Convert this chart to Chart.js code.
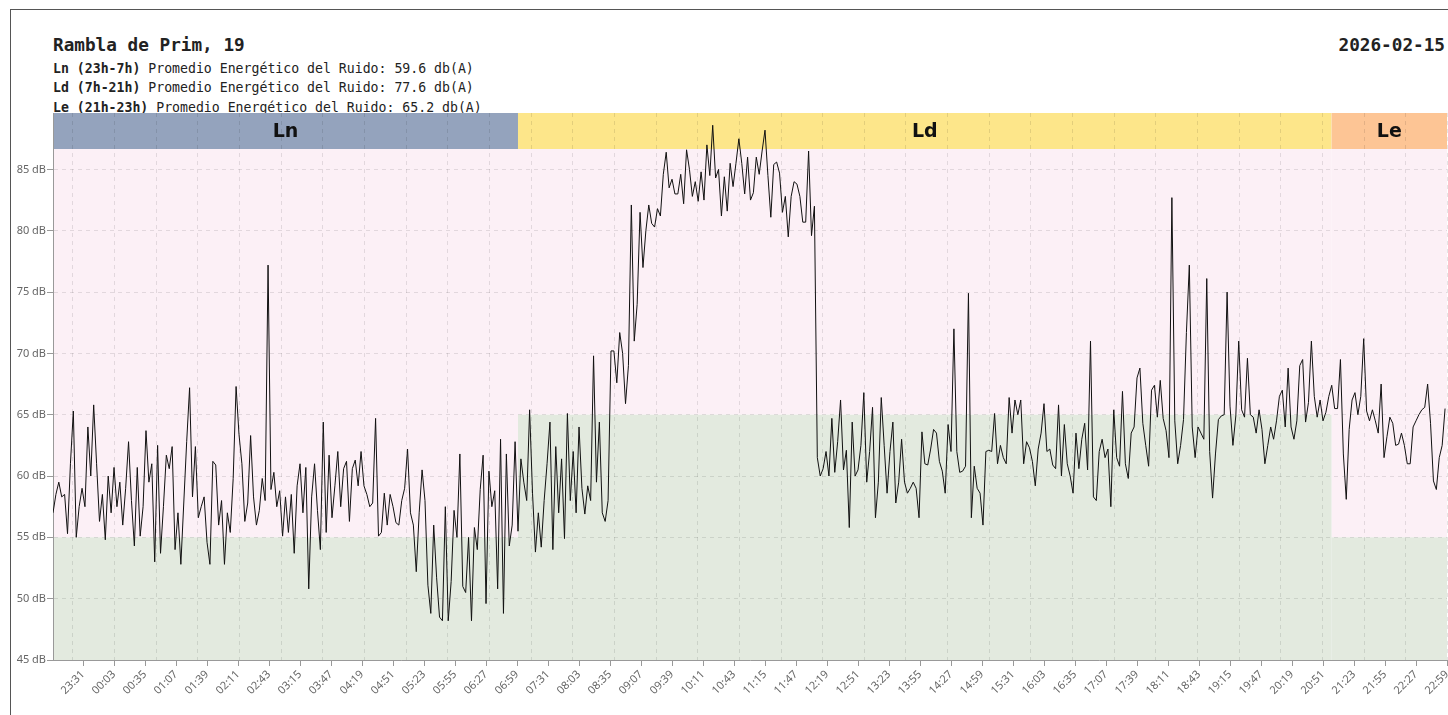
<!DOCTYPE html>
<html>
<head>
<meta charset="utf-8">
<script src="https://cdn.jsdelivr.net/npm/chart.js@4.4.1/dist/chart.umd.min.js"></script>
<style>
  html, body { margin: 0; padding: 0; background: #fff; overflow: hidden; }
  #frame { position: absolute; left: 10px; top: 9px; width: 1600px; height: 800px;
           border-left: 1px solid #555; border-top: 1px solid #555; }
  .mono { font-family: "DejaVu Sans Mono", monospace; color: #222; position: absolute; white-space: pre; }
  #title { left: 53px; top: 34px; font-size: 17.7px; font-weight: bold; line-height: 22px; }
  #date { right: 3px; top: 34px; font-size: 17.7px; font-weight: bold; line-height: 22px; }
  .info { left: 53px; font-size: 13.2px; line-height: 16px; }
  #chartBox { position: absolute; left: 0; top: 100px; }
</style>
</head>
<body>
<div id="frame"></div>
<div id="title" class="mono">Rambla de Prim, 19</div>
<div id="date" class="mono">2026-02-15</div>
<div class="mono info" style="top:61px"><b>Ln (23h-7h)</b> Promedio Energético del Ruido: 59.6 db(A)</div>
<div class="mono info" style="top:80px"><b>Ld (7h-21h)</b> Promedio Energético del Ruido: 77.6 db(A)</div>
<div class="mono info" style="top:100px"><b>Le (21h-23h)</b> Promedio Energético del Ruido: 65.2 db(A)</div>
<canvas id="chartBox" width="1460" height="615"></canvas>
<script>
// Nivel sonoro cada 3 minutos desde las 23:00 (dB)
const sampleStep = 3;
const levels = [
  // 23:00 - 02:00
  57, 58.5, 59.5, 58.3, 58.5, 55.3, 61, 65.3, 55, 57.5,
  59, 57.5, 64, 60, 65.8, 61, 56.3, 58.5, 54.8, 60,
  57, 60.7, 57.5, 59.5, 56, 59, 62.8, 58, 54.3, 60.7,
  55.1, 57.5, 63.7, 59.5, 61, 53, 62.5, 53.7, 57.5, 61.7,
  60.6, 62.4, 54, 57, 52.8, 57.8, 62.8, 67.2, 58.3, 62.4,
  56.6, 57.5, 58.3, 54.6, 52.8, 61.2, 60.9, 56, 58, 52.8,
  // 02:00 - 05:00
  57, 55.4, 59.8, 67.3, 63.4, 61, 56.3, 57.8, 63.3, 58.3,
  56, 57.2, 59.8, 58, 77.2, 58.9, 60.3, 57.5, 58.8, 55.1,
  58.3, 55.4, 58.5, 53.7, 59.2, 61, 57, 60.7, 50.8, 58.3,
  61, 57.2, 54, 64.4, 55.4, 61.7, 56.6, 59.2, 62, 57.5,
  60.6, 61.2, 56.3, 60.6, 61.3, 59.2, 62, 59.2, 58.5, 57.5,
  57.8, 64.7, 55.1, 55.4, 58.6, 56, 58.5, 57.5, 56.2, 56,
  // 05:00 - 08:00
  58, 59, 62.2, 57, 56, 52.2, 57, 60.5, 58, 51.1,
  48.8, 56, 51.7, 48.5, 48.2, 57.5, 48.2, 51.4, 57.2, 55,
  61.8, 51, 50.5, 55, 48.2, 55.8, 54, 58.9, 61.7, 49.6,
  60.4, 57.5, 58.8, 50.8, 63, 48.8, 61.8, 54.3, 56, 62.8,
  55.5, 61.4, 59.5, 58, 65.4, 58.6, 53.8, 57, 54.2, 58,
  61, 64.4, 54, 62.4, 57, 61.4, 54.9, 65.1, 58, 62,
  // 08:00 - 11:00
  57, 64, 59, 56.9, 59.2, 58, 69.8, 59.5, 64.4, 57,
  56.3, 58, 70.2, 70.2, 67.6, 71.7, 70, 65.9, 69, 82.1,
  71, 74, 81.5, 77, 80, 82.1, 80.6, 80.3, 81.8, 81.2,
  84.6, 86.4, 83.5, 84.2, 83, 83, 84.6, 82.2, 86.6, 85,
  82.8, 84, 82.4, 84.8, 82.5, 87, 84.5, 88.6, 84.3, 85,
  81.2, 84.4, 81.6, 85.5, 83.6, 85.5, 87.5, 85.5, 83, 86,
  // 11:00 - 14:00
  82.5, 83.1, 86, 84.6, 86.5, 88.2, 84.5, 81.1, 85.4, 85.6,
  84.7, 81.5, 82.8, 79.5, 82.8, 84, 83.8, 82.8, 80.7, 80.7,
  86.5, 79.6, 82, 61.5, 60, 60.6, 62, 60, 64.7, 60.3,
  62.8, 66.2, 60.5, 62.1, 55.8, 64.4, 60, 60.5, 62.5, 66.8,
  59.5, 62, 65.6, 56.6, 59.5, 66.4, 62.5, 58.6, 62, 64.4,
  57.8, 59.5, 63, 59.5, 58.6, 59, 59.5, 59, 56.6, 63.6,
  // 14:00 - 17:00
  61, 60.9, 62.2, 63.8, 63.5, 61.2, 60.4, 58.6, 64.2, 62,
  72, 62, 60.3, 60.4, 60.8, 74.9, 56.6, 60.8, 59, 58.6,
  56, 62, 62.1, 62, 65.1, 61, 62.5, 61.5, 61, 66.4,
  63.5, 66.2, 65, 66.2, 61, 62.8, 62.3, 61.2, 59.2, 62.2,
  63.5, 65.9, 62, 62.2, 60.9, 60.6, 65.8, 60, 64.2, 61,
  60, 58.6, 63.5, 60.6, 63, 64.3, 60.5, 71, 58.3, 58,
  // 17:00 - 20:00
  62, 63, 61.5, 62.2, 57.5, 65.4, 61.5, 60.8, 66.9, 61,
  59.8, 63.5, 64, 68, 68.8, 64.3, 62.5, 60.8, 67, 67.4,
  64.8, 67.8, 64.7, 63.7, 61.5, 82.7, 64.5, 61, 62.5, 64.6,
  71.7, 77.2, 64, 61.5, 64, 63.5, 63, 76.1, 62, 58.2,
  61.8, 64.6, 64.9, 65, 75, 65.7, 62.5, 64.9, 71, 65.4,
  64.8, 69.6, 65, 64.8, 63.5, 65.4, 63.8, 61, 62.5, 64,
  // 20:00 - 23:00
  63, 64.5, 66.5, 67, 64, 68.8, 64, 63, 64.5, 69,
  69.5, 64.4, 66, 71, 66.5, 64.8, 66.2, 64.5, 65.2, 66.5,
  67.4, 65.5, 65.5, 69.5, 61.8, 58.1, 63.8, 66.2, 66.8, 65,
  66.5, 71.2, 65.3, 64.5, 65.4, 64.5, 63.5, 67.5, 61.5, 63.2,
  64.8, 64.3, 62.5, 62.6, 63.5, 62.5, 61, 61, 64, 64.5,
  65, 65.4, 65.6, 67.5, 64.3, 59.6, 58.9, 61.5, 62.5, 65.5
];

// Etiquetas del eje X
const tickLabels = [
  '23:31', '00:03', '00:35', '01:07', '01:39', '02:11', '02:43', '03:15', '03:47',
  '04:19', '04:51', '05:23', '05:55', '06:27', '06:59', '07:31', '08:03', '08:35',
  '09:07', '09:39', '10:11', '10:43', '11:15', '11:47', '12:19', '12:51', '13:23',
  '13:55', '14:27', '14:59', '15:31', '16:03', '16:35', '17:07', '17:39', '18:11',
  '18:43', '19:15', '19:47', '20:19', '20:51', '21:23', '21:55', '22:27', '22:59'
];

// Periodos: nombre, inicio y fin (minutos desde las 23:00), límite en dB
const periodNames = ['Ln', 'Ld', 'Le'];
const periodStart = [0, 480, 1320];
const periodEnd = [480, 1320, 1440];
const periodLimit = [55, 65, 55];
const periodColors = ['#94a3bd', '#fde68a', '#fdc595'];

const startHour = 23;
const xMax = 1439;
const gridStep = 43;
const gridOffset = 20;
const bandHeight = 36;
const overColor = '#fcf0f6';
const underColor = '#e3eadf';

function toMinutes(label) {
  const [h, m] = label.split(':').map(Number);
  return ((h - startHour + 24) % 24) * 60 + m;
}
const tickMinutes = tickLabels.map(toMinutes);

const zonesPlugin = {
  id: 'zones',
  beforeDraw(chart) {
    const { ctx, chartArea: a, scales: { x, y } } = chart;
    ctx.save();
    periodNames.forEach((name, i) => {
      const x0 = Math.max(a.left, x.getPixelForValue(periodStart[i]));
      const x1 = Math.min(a.right, x.getPixelForValue(periodEnd[i]));
      const yl = y.getPixelForValue(periodLimit[i]);
      ctx.fillStyle = overColor;
      ctx.fillRect(x0, a.top, x1 - x0, yl - a.top);
      ctx.fillStyle = underColor;
      ctx.fillRect(x0, yl, x1 - x0, a.bottom - yl);
      ctx.fillStyle = periodColors[i];
      ctx.fillRect(x0, a.top, x1 - x0, bandHeight);
    });
    // lineas verticales discontinuas
    ctx.strokeStyle = 'rgba(0,0,0,0.1)';
    ctx.lineWidth = 1;
    ctx.setLineDash([4, 4]);
    for (let m = gridOffset; m <= xMax; m += gridStep) {
      const px = Math.round(x.getPixelForValue(m)) + 0.5;
      ctx.beginPath();
      ctx.moveTo(px, a.top);
      ctx.lineTo(px, a.bottom);
      ctx.stroke();
    }
    ctx.setLineDash([]);
    // nombres de periodos
    ctx.fillStyle = '#111';
    ctx.font = 'bold 19px "DejaVu Sans"';
    ctx.textAlign = 'center';
    ctx.textBaseline = 'middle';
    periodNames.forEach((name, i) => {
      const x0 = Math.max(a.left, x.getPixelForValue(periodStart[i]));
      const x1 = Math.min(a.right, x.getPixelForValue(periodEnd[i]));
      ctx.fillText(name, (x0 + x1) / 2, a.top + bandHeight / 2 + 1);
    });
    ctx.restore();
  }
};

new Chart(document.getElementById('chartBox'), {
  type: 'line',
  data: {
    datasets: [{
      data: levels.map((v, i) => ({ x: i * sampleStep, y: v })),
      borderColor: '#111',
      borderWidth: 1,
      pointRadius: 0,
      tension: 0,
      fill: false
    }]
  },
  options: {
    responsive: false,
    animation: false,
    devicePixelRatio: 1,
    layout: { padding: { top: 13, right: 13, left: 0, bottom: 0 } },
    plugins: { legend: { display: false }, tooltip: { enabled: false } },
    scales: {
      x: {
        type: 'linear',
        min: 0,
        max: xMax,
        afterBuildTicks: s => { s.ticks = tickMinutes.map(v => ({ value: v })); },
        afterFit: s => { s.height = 55; s.paddingLeft = 0; s.paddingRight = 0; },
        ticks: {
          autoSkip: false,
          maxRotation: 45,
          minRotation: 45,
          padding: 2,
          color: '#666',
          font: { family: '"Noto Sans"', size: 11 },
          callback: (v, i) => tickLabels[i]
        },
        grid: { drawOnChartArea: false, tickLength: 6, tickColor: '#999' },
        border: { color: '#999' }
      },
      y: {
        min: 45,
        max: 89.6,
        afterFit: s => { s.width = 53; },
        ticks: {
          stepSize: 5,
          includeBounds: false,
          padding: 1,
          color: '#666',
          font: { family: '"Noto Sans"', size: 11 },
          callback: v => v + ' dB'
        },
        grid: { color: 'rgba(0,0,0,0.1)', tickLength: 6, tickColor: '#999', tickBorderDash: [] },
        border: { color: '#999', dash: [4, 4] }
      }
    }
  },
  plugins: [zonesPlugin]
});
</script>
</body>
</html>
